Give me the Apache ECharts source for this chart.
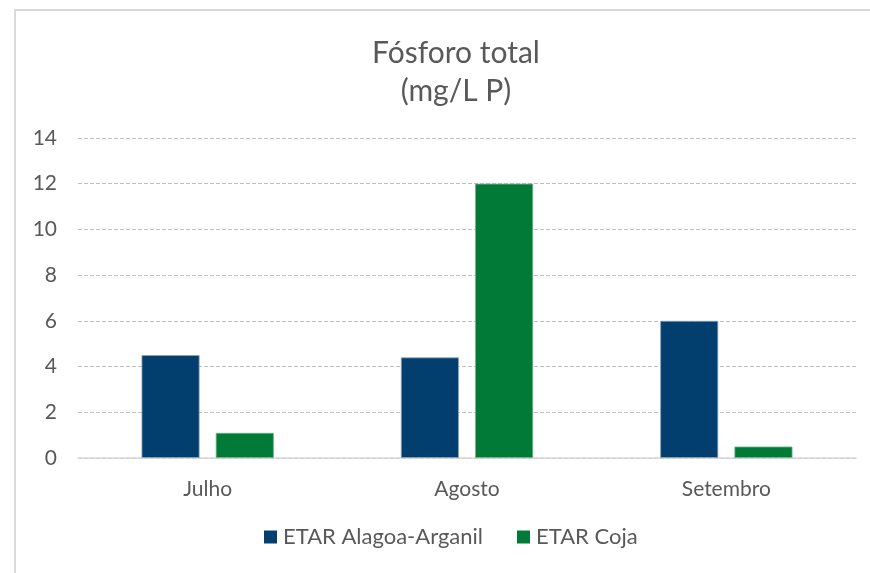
<!DOCTYPE html>
<html>
<head>
<meta charset="utf-8">
<script src="https://cdn.jsdelivr.net/npm/echarts@6/dist/echarts.min.js"></script>
<style>html,body{margin:0;padding:0;background:#fff}#c{width:870px;height:573px}</style>
</head>
<body>
<div id="c"></div>
<script>
const categories = ['Julho', 'Agosto', 'Setembro'];
const seriesNames = ['ETAR Alagoa-Arganil', 'ETAR Coja'];
const alagoaArganil = [4.5, 4.4, 6.0];
const coja = [1.1, 12.0, 0.5];
const yTicks = [0, 2, 4, 6, 8, 10, 12, 14];

const chart = echarts.init(document.getElementById('c'), null, {renderer: 'canvas'});
const txt = '#595959';
const font = 'Lato, "Open Sans", sans-serif';
chart.setOption({
  animation: false,
  backgroundColor: '#fff',
  graphic: [{
    type: 'rect', silent: true, z: -1,
    shape: {x: 15, y: 10, width: 900, height: 600},
    style: {fill: 'none', stroke: '#d9d9d9', lineWidth: 2}
  }],
  title: {
    text: 'Fósforo total\n(mg/L P)',
    left: 451, top: 29, textAlign: 'center',
    textStyle: {color: txt, fontFamily: font, fontWeight: 'normal', fontSize: 30, lineHeight: 38}
  },
  legend: {
    data: seriesNames,
    bottom: 20, left: 259,
    itemWidth: 13, itemHeight: 13, itemGap: 34,
    icon: 'rect',
    itemStyle: {borderWidth: 0},
    textStyle: {color: txt, fontFamily: font, fontSize: 22, padding: [0, 0, 0, 1]}
  },
  grid: {left: 78, right: 14, top: 138, bottom: 115},
  xAxis: {
    type: 'category', data: categories,
    axisLine: {lineStyle: {color: '#d9d9d9', width: 1.5}},
    axisTick: {show: false},
    axisLabel: {color: txt, fontFamily: font, fontSize: 21, margin: 21}
  },
  yAxis: {
    type: 'value', min: 0, max: 14, interval: 2,
    axisLine: {show: false}, axisTick: {show: false},
    axisLabel: {color: txt, fontFamily: font, fontSize: 21, margin: 21,
      formatter: v => yTicks.includes(v) ? String(v) : ''},
    splitLine: {lineStyle: {color: '#bfbfbf', type: [4, 2], width: 1}}
  },
  series: [
    {name: seriesNames[0], type: 'bar', data: alagoaArganil, barWidth: 58, barGap: '28%',
      itemStyle: {color: '#023f6e', borderColor: '#8aa3bd', borderWidth: 0.8}},
    {name: seriesNames[1], type: 'bar', data: coja, barWidth: 58,
      itemStyle: {color: '#027a37', borderColor: '#6fb38a', borderWidth: 0.8}}
  ]
});
</script>
</body>
</html>
